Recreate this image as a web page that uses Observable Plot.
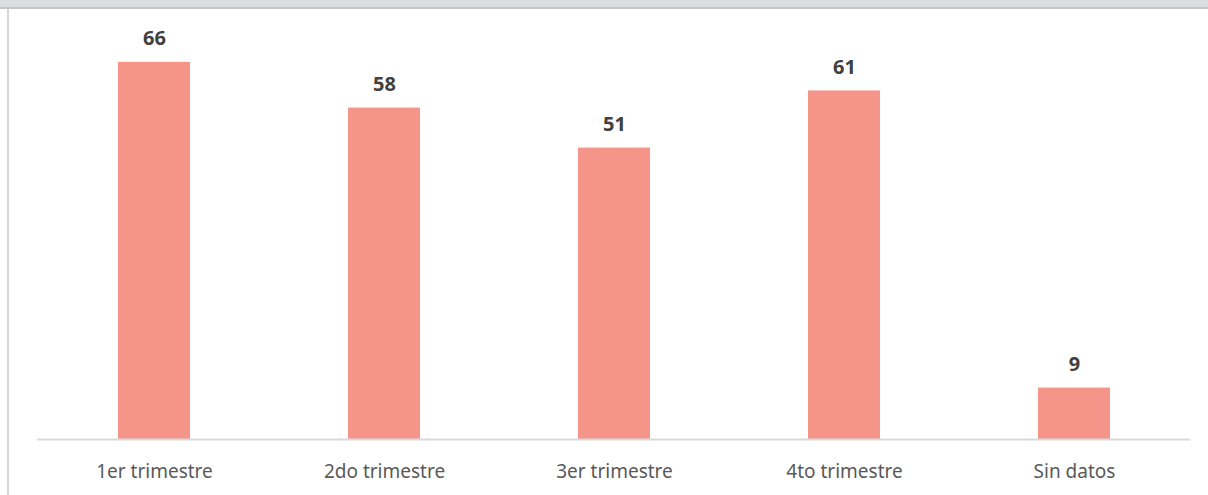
<!DOCTYPE html>
<html>
<head>
<meta charset="utf-8">
<script src="https://cdn.jsdelivr.net/npm/d3@7"></script>
<script src="https://cdn.jsdelivr.net/npm/@observablehq/plot@0.6"></script>
<style>
  html, body { margin: 0; padding: 0; background: #fff; }
  #wrap { position: relative; width: 1208px; height: 495px; overflow: hidden; }
  #topband { position: absolute; left: 0; top: 0; width: 1208px; height: 7px; background: #dcdddf; border-bottom: 2px solid #c6c6c6; }
  #leftline { position: absolute; left: 7px; top: 9px; width: 2px; height: 486px; background: #d6d6d6; }
  #chart { position: absolute; left: 0; top: 0; }
</style>
</head>
<body>
<div id="wrap">
  <div id="chart"></div>
  <div id="topband"></div>
  <div id="leftline"></div>
</div>
<script>
const categories = ["1er trimestre", "2do trimestre", "3er trimestre", "4to trimestre", "Sin datos"];
const values = [66, 58, 51, 61, 9];

const data = categories.map((c, i) => ({category: c, value: values[i]}));

const chart = Plot.plot({
  width: 1208,
  height: 495,
  marginLeft: 37,
  marginRight: 18,
  marginTop: 39,
  marginBottom: 56,
  style: {fontFamily: "'Noto Sans', sans-serif", background: "transparent"},
  x: {domain: categories, paddingInner: 0.688, paddingOuter: 0.344, label: null},
  y: {domain: [0, 70], axis: null},
  marks: [
    Plot.barY(data, {x: "category", y: "value", fill: "#f59589"}),
    Plot.ruleY([0], {stroke: "#d9d9d9", strokeWidth: 2}),
    Plot.text(data, {x: "category", y: "value", text: d => String(d.value), lineAnchor: "bottom", dy: -17, fontSize: 20, fontWeight: "bold", fill: "#404040"}),
    Plot.axisX({tickSize: 0, tickPadding: 25, fontSize: 19, color: "#595959", label: null})
  ]
});
document.getElementById("chart").appendChild(chart);
</script>
</body>
</html>
